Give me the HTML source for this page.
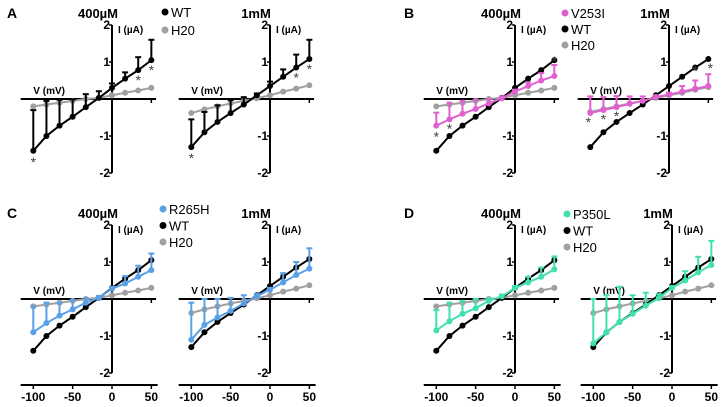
<!DOCTYPE html>
<html><head><meta charset="utf-8"><style>
html,body{margin:0;padding:0;background:#fff;}
svg{display:block;font-family:"Liberation Sans",Arial,sans-serif;}
</style></head><body>
<svg id="fig" width="722" height="407" viewBox="0 0 722 407"></svg>
<script>
const volts=[-100,-83.3,-66.7,-50,-33.3,-16.7,0,16.7,33.3,50];
const axisTicks=[-100,-50,0,50];
const yTicks=[2,1,-1,-2];
const wt400=[-1.4,-1.0,-0.72,-0.48,-0.22,0.03,0.3,0.55,0.78,1.05];
const wt400err=[1.1,0.95,0.7,0.47,0.35,0.18,0.12,0.17,0.35,0.55];
const wt1m=[-1.3,-0.9,-0.62,-0.38,-0.15,0.1,0.35,0.6,0.85,1.08];
const wt1merr=[0.75,0.55,0.45,0.35,0.2,0.05,0.12,0.2,0.35,0.52];
const h400=[-0.2,-0.15,-0.1,-0.05,0,0.03,0.1,0.17,0.23,0.3];
const h1m=[-0.38,-0.28,-0.2,-0.12,-0.05,0.02,0.1,0.2,0.28,0.37];
const v253i400=[-0.72,-0.55,-0.4,-0.27,-0.12,0.02,0.2,0.35,0.5,0.62];
const v253i400err=[0.35,0.45,0.35,0.25,0.12,0.05,0.05,0.1,0.2,0.3];
const v253i1m=[-0.38,-0.3,-0.22,-0.13,-0.05,0.05,0.12,0.2,0.28,0.35];
const v253i1merr=[0.45,0.35,0.3,0.2,0.12,0.05,0.05,0.15,0.22,0.32];
const hB1m=[-0.35,-0.27,-0.2,-0.12,-0.05,0.03,0.1,0.17,0.25,0.32];
const r265h400=[-0.9,-0.65,-0.45,-0.28,-0.1,0.03,0.28,0.42,0.6,0.78];
const r265h400err=[0.7,0.55,0.35,0.25,0.12,0.05,0.05,0.2,0.3,0.45];
const r265h1m=[-1.1,-0.7,-0.5,-0.32,-0.12,0.08,0.25,0.45,0.65,0.82];
const r265h1merr=[1.0,0.7,0.5,0.35,0.22,0.05,0.05,0.25,0.35,0.55];
const p350l400=[-0.85,-0.6,-0.4,-0.25,-0.05,0.07,0.3,0.45,0.6,0.8];
const p350l400err=[0.55,0.5,0.35,0.25,0.07,0.05,0.05,0.15,0.25,0.35];
const p350l1m=[-1.2,-0.9,-0.62,-0.4,-0.18,0.03,0.3,0.5,0.72,0.92];
const p350l1merr=[1.2,1.0,0.95,0.5,0.35,0.1,0.05,0.25,0.42,0.65];

const NS="http://www.w3.org/2000/svg";
const svg=document.getElementById('fig');
const XS=0.787, YS=37;
const BLACK='#000', GREY='#a0a0a0', PINK='#e060d0', BLUE='#5aa0e8', TEAL='#40e0b0';
function mk(tag,attrs,parent){const e=document.createElementNS(NS,tag);for(const k in attrs)e.setAttribute(k,attrs[k]);(parent||svg).appendChild(e);return e;}
function txt(s,x,y,size,anchor,parent,weight){const t=mk('text',{x:x,y:y,'font-size':size,'font-weight':weight||'bold','text-anchor':anchor||'start',fill:'#000'},parent);t.textContent=s;return t;}

function plot(name,ox,oy,title,series,bottom){
  const g=mk('g',{});
  
  
  const X=v=>ox+v*XS, Y=i=>oy-i*YS;
  // axes
  const ax=mk('line',{x1:X(-116),x2:X(56),y1:oy,y2:oy,stroke:'#000','stroke-width':2},g);
  
  
  mk('line',{x1:X(50),x2:X(50),y1:oy,y2:oy+4,stroke:'#000','stroke-width':1.5},g);
  const ay=mk('line',{x1:ox,x2:ox,y1:Y(2),y2:Y(-2),stroke:'#000','stroke-width':2},g);
  
  
  yTicks.forEach(t=>{mk('line',{x1:ox-3,x2:ox,y1:Y(t),y2:Y(t),stroke:'#000','stroke-width':1.5},g);
    const l=txt(String(t),ox-2,Y(t)+4,12,'end',g);
    
    });
  const il=txt('I (µA)',ox+6,Y(2)+8,10,'start',g);
  
  
  const vl=txt('V (mV)',X(-100),oy-5,10,'start',g);
  
  
  const tt=txt(title,ox-14,oy-81,13,'middle',g);
  
  
  if(bottom){
    const by=oy+86;
    const bl=mk('line',{x1:X(-116),x2:X(58),y1:by,y2:by,stroke:'#000','stroke-width':2},g);
    
    
    axisTicks.forEach(t=>{mk('line',{x1:X(t),x2:X(t),y1:by,y2:by+4,stroke:'#000','stroke-width':1.5},g);
      const l=txt(String(t),X(t),by+16,12,'middle',g);
      
      });
  }
  series.forEach(s=>{
    const sg=mk('g',{},g);
    
    
    if(s.err){s.vals.forEach((v,i)=>{const top=v+s.err[i];
      mk('line',{x1:X(volts[i]),x2:X(volts[i]),y1:Y(v),y2:Y(top),stroke:s.color,'stroke-width':2},sg);
      mk('line',{x1:X(volts[i])-3,x2:X(volts[i])+3,y1:Y(top),y2:Y(top),stroke:s.color,'stroke-width':2},sg);});}
    mk('polyline',{points:s.vals.map((v,i)=>X(volts[i])+','+Y(v)).join(' '),fill:'none',stroke:s.color,'stroke-width':2},sg);
    s.vals.forEach((v,i)=>{const c=mk('circle',{cx:X(volts[i]),cy:Y(v),r:3,fill:s.color},sg);
      
      });
  });
  return {X,Y,g};
}
function star(p,v,i,dy,dx){const t=txt('*',p.X(volts[i])+(dx||0),p.Y(v)+dy,14,'middle',p.g,'normal');t.setAttribute('fill','#444');
  
  }
function legend(x,y0,items,dy){items.forEach((it,k)=>{const y=y0+k*dy;
  const g=mk('g',{});
  
  
  mk('circle',{cx:x,cy:y,r:3.5,fill:it[1]},g);txt(it[0],x+6,y+5,13,'start',g,'normal');});}
function letter(s,x,y){const t=txt(s,x,y,14,'start');}

// Panel A
letter('A',7,18);
let p=plot('plot-a-400um',112,99,'400µM',[{name:'h20-series',vals:h400,color:GREY},{name:'wt-series',vals:wt400,err:wt400err,color:BLACK}],false);
star(p,wt400[0],0,16);star(p,wt400[8],8,15);star(p,wt400[9],9,15);
p=plot('plot-a-1mm',270,99,'1mM',[{name:'h20-series',vals:h1m,color:GREY},{name:'wt-series',vals:wt1m,err:wt1merr,color:BLACK}],false);
star(p,wt1m[0],0,16);star(p,wt1m[8],8,15);star(p,wt1m[9],9,15);
legend(165,12,[['WT',BLACK],['H20',GREY]],18);

// Panel B
letter('B',404,18);
p=plot('plot-b-400um',515,99,'400µM',[{name:'h20-series',vals:h400,color:GREY},{name:'wt-series',vals:wt400,color:BLACK},{name:'v253i-series',vals:v253i400,err:v253i400err,color:PINK}],false);
star(p,v253i400[0],0,16);star(p,v253i400[1],1,14);star(p,v253i400[9],9,-10);
p=plot('plot-b-1mm',669,99,'1mM',[{name:'h20-series',vals:hB1m,color:GREY},{name:'wt-series',vals:wt1m,color:BLACK},{name:'v253i-series',vals:v253i1m,err:v253i1merr,color:PINK}],false);
star(p,v253i1m[0],0,14,-2);star(p,v253i1m[1],1,14);star(p,v253i1m[2],2,14);star(p,v253i1m[8],8,-13);star(p,v253i1m[9],9,-13,2);
legend(565,13,[['V253I',PINK],['WT',BLACK],['H20',GREY]],16);

// Panel C
letter('C',7,218);
plot('plot-c-400um',112,299,'400µM',[{name:'h20-series',vals:h400,color:GREY},{name:'wt-series',vals:wt400,color:BLACK},{name:'r265h-series',vals:r265h400,err:r265h400err,color:BLUE}],true);
plot('plot-c-1mm',270,299,'1mM',[{name:'h20-series',vals:h1m,color:GREY},{name:'wt-series',vals:wt1m,color:BLACK},{name:'r265h-series',vals:r265h1m,err:r265h1merr,color:BLUE}],true);
legend(163,209,[['R265H',BLUE],['WT',BLACK],['H20',GREY]],16.5);

// Panel D
letter('D',404,218);
plot('plot-d-400um',515,299,'400µM',[{name:'h20-series',vals:h400,color:GREY},{name:'wt-series',vals:wt400,color:BLACK},{name:'p350l-series',vals:p350l400,err:p350l400err,color:TEAL}],true);
plot('plot-d-1mm',672,299,'1mM',[{name:'h20-series',vals:h1m,color:GREY},{name:'wt-series',vals:wt1m,color:BLACK},{name:'p350l-series',vals:p350l1m,err:p350l1merr,color:TEAL}],true);
legend(567,214,[['P350L',TEAL],['WT',BLACK],['H20',GREY]],16.5);
</script>
</body></html>
